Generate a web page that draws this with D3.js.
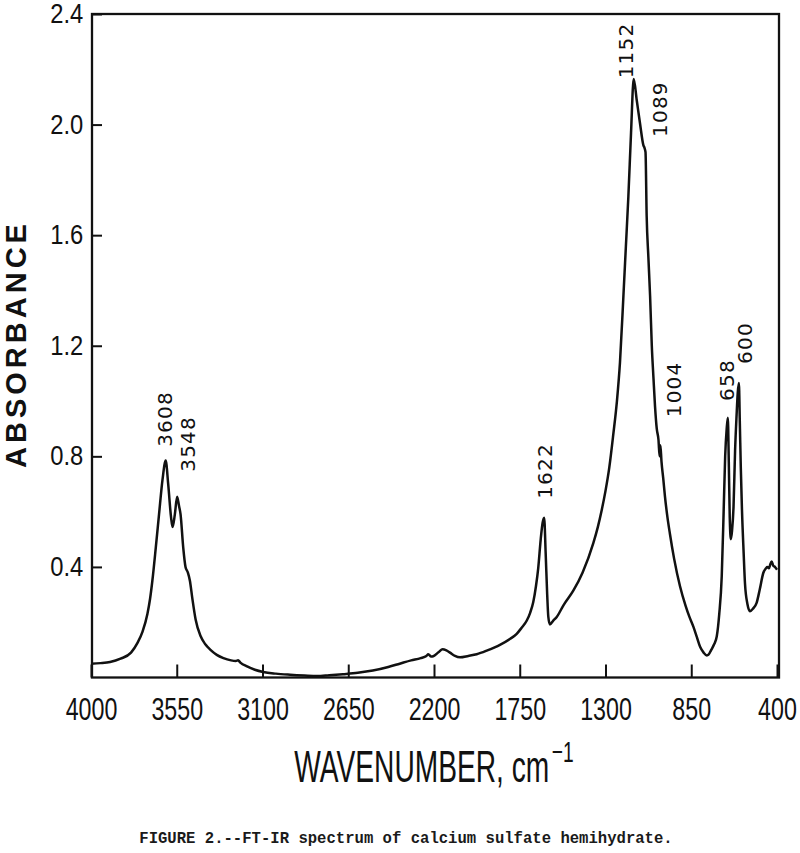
<!DOCTYPE html>
<html><head><meta charset="utf-8">
<script src="https://cdn.jsdelivr.net/npm/d3@7"></script>
<style>body{margin:0;background:#fff}</style>
</head><body>
<svg id="c" width="800" height="853"></svg>
<script>
// ---- data ----
const wavenumber = [4000,3950,3900,3845,3790,3756,3730,3704,3690,3678,3660,3643,3625,3608,3595,3580,3572,3560,3548,3538,3530,3516,3504,3492,3481,3469,3451,3425,3400,3373,3340,3305,3265,3240,3228,3216,3181,3140,3096,3030,2955,2880,2814,2750,2678,2600,2521,2440,2380,2320,2270,2240,2230,2215,2204,2175,2155,2135,2116,2090,2063,2020,1976,1920,1854,1800,1766,1740,1713,1695,1679,1665,1653,1640,1630,1622,1614,1606,1600,1592,1575,1556,1520,1469,1420,1364,1340,1320,1300,1280,1259,1240,1224,1206,1193,1180,1166,1152,1136,1119,1101,1095,1090,1084,1075,1066,1057,1048,1040,1031,1022,1016,1012,1006,997,988,975,962,940,909,880,860,839,820,803,785,768,760,745,730,716,703,690,680,672,664,658,653,648,642,636,628,620,612,606,600,595,590,584,575,568,555,542,525,507,490,472,458,451,442,435,428,420,411,400];
const absorbance = [0.050,0.052,0.056,0.068,0.090,0.125,0.165,0.230,0.285,0.350,0.470,0.590,0.714,0.785,0.700,0.580,0.544,0.590,0.654,0.620,0.590,0.470,0.400,0.380,0.350,0.290,0.210,0.150,0.120,0.100,0.082,0.070,0.062,0.060,0.062,0.054,0.040,0.028,0.020,0.014,0.010,0.007,0.005,0.008,0.012,0.017,0.025,0.038,0.050,0.062,0.070,0.078,0.084,0.076,0.077,0.092,0.102,0.098,0.090,0.078,0.073,0.078,0.084,0.098,0.118,0.140,0.158,0.180,0.206,0.235,0.273,0.330,0.396,0.500,0.560,0.578,0.450,0.300,0.219,0.192,0.205,0.219,0.262,0.314,0.380,0.486,0.545,0.605,0.675,0.760,0.880,1.000,1.140,1.380,1.560,1.740,1.970,2.165,2.088,2.005,1.925,1.915,1.900,1.670,1.520,1.380,1.200,1.080,0.980,0.900,0.860,0.800,0.840,0.780,0.720,0.655,0.580,0.520,0.430,0.330,0.260,0.220,0.184,0.145,0.110,0.090,0.080,0.082,0.100,0.120,0.149,0.230,0.366,0.600,0.800,0.900,0.940,0.780,0.580,0.500,0.530,0.620,0.820,0.950,1.030,1.065,0.920,0.760,0.610,0.450,0.340,0.265,0.240,0.250,0.270,0.320,0.378,0.395,0.400,0.395,0.410,0.420,0.405,0.400,0.390];
const xTickValues = [4000,3550,3100,2650,2200,1750,1300,850,400];
const yTickValues = [0.4,0.8,1.2,1.6,2.0,2.4];
const peakWavenumbers = [3608,3548,1622,1152,1089,1004,658,600];
const peakLabels = ["3608","3548","1622","1152","1089","1004","658","600"];
const xTitle = "WAVENUMBER, cm";
const xTitleSup = "\u22121";
const yTitle = "ABSORBANCE";
const caption = "FIGURE 2.--FT-IR spectrum of calcium sulfate hemihydrate.";

// ---- layout ----
const svg = d3.select("#c");
const L = 92, R = 779, T = 14, B = 677.5;
const x = d3.scaleLinear().domain([4000, 400]).range([91, 777]);
const y = d3.scaleLinear().domain([0, 2.4]).range([B, T]);
const ink = "#111";

// label placement (pixel offset from the peak, absorbance height of label centre)
const labelPlace = {
  "3608": [-1, 0.935], "3548": [11, 0.845], "1622": [1, 0.747], "1152": [-8, 2.268],
  "1089": [14, 2.056], "1004": [12, 1.042], "658": [-1.5, 1.076], "600": [5.5, 1.21]
};

// x axis
const gx = svg.append("g").attr("transform", `translate(0,${B})`)
  .call(d3.axisBottom(x).tickValues(xTickValues).tickSizeInner(-13).tickSizeOuter(0)
    .tickPadding(20.5).tickFormat(d3.format("d")));
gx.select(".domain").remove();
gx.selectAll(".tick line").attr("stroke", ink).attr("stroke-width", 2);
gx.selectAll(".tick text").attr("fill", ink)
  .style("font-family", "'Liberation Sans', Arial, sans-serif").style("font-size", "31px")
  .attr("transform", "scale(0.75,1)");

// y axis
const gy = svg.append("g").attr("transform", `translate(${L},0)`)
  .call(d3.axisLeft(y).tickValues(yTickValues).tickSizeInner(-10).tickSizeOuter(0)
    .tickPadding(10).tickFormat(d3.format(".1f")));
gy.select(".domain").remove();
gy.selectAll(".tick line").attr("stroke", ink).attr("stroke-width", 2);
gy.selectAll(".tick text").attr("fill", ink)
  .style("font-family", "'Liberation Sans', Arial, sans-serif").style("font-size", "27px")
  .attr("transform", "scale(0.88,1)");

// frame
svg.append("rect").attr("x", L).attr("y", T).attr("width", R - L).attr("height", B - T)
  .attr("fill", "none").attr("stroke", ink).attr("stroke-width", 2.3);

// spectrum
const pts = wavenumber.map((w, i) => ({ w, v: absorbance[i] }));
svg.append("path").datum(pts)
  .attr("d", d3.line().x(d => x(d.w)).y(d => y(d.v)).curve(d3.curveMonotoneX))
  .attr("fill", "none").attr("stroke", ink).attr("stroke-width", 2.5)
  .attr("stroke-linejoin", "round");

// peak labels
svg.append("g").selectAll("text").data(peakWavenumbers).join("text")
  .attr("transform", (w, i) => {
    const p = labelPlace[peakLabels[i]];
    return `translate(${x(w) + p[0] + 7.3},${y(p[1])}) rotate(-90)`;
  })
  .attr("text-anchor", "middle")
  .style("font-family", "'DejaVu Sans', sans-serif").style("font-size", "20px")
  .style("letter-spacing", "1.2px").attr("fill", ink)
  .text((w, i) => peakLabels[i]);

// y title
svg.append("text").attr("transform", `translate(26,344) rotate(-90)`)
  .attr("text-anchor", "middle")
  .style("font-family", "'Liberation Sans', Arial, sans-serif").style("font-size", "29px")
  .style("font-weight", "bold").style("letter-spacing", "4px").attr("fill", ink)
  .text(yTitle);

// x title
const xt = svg.append("g").attr("transform", `translate(434,782) scale(0.64,1)`)
  .append("text").attr("text-anchor", "middle")
  .style("font-family", "'Liberation Sans', Arial, sans-serif").style("font-size", "44px")
  .attr("fill", ink);
xt.append("tspan").text(xTitle);
xt.append("tspan").attr("dx", 4).attr("dy", -20).style("font-size", "30px").text(xTitleSup);

// caption
svg.append("text").attr("x", 406).attr("y", 843).attr("text-anchor", "middle")
  .style("font-family", "'Liberation Mono', 'Courier New', monospace").style("font-size", "15.6px")
  .style("font-weight", "bold").attr("fill", "#1a1a1a").text(caption);
</script>
</body></html>
